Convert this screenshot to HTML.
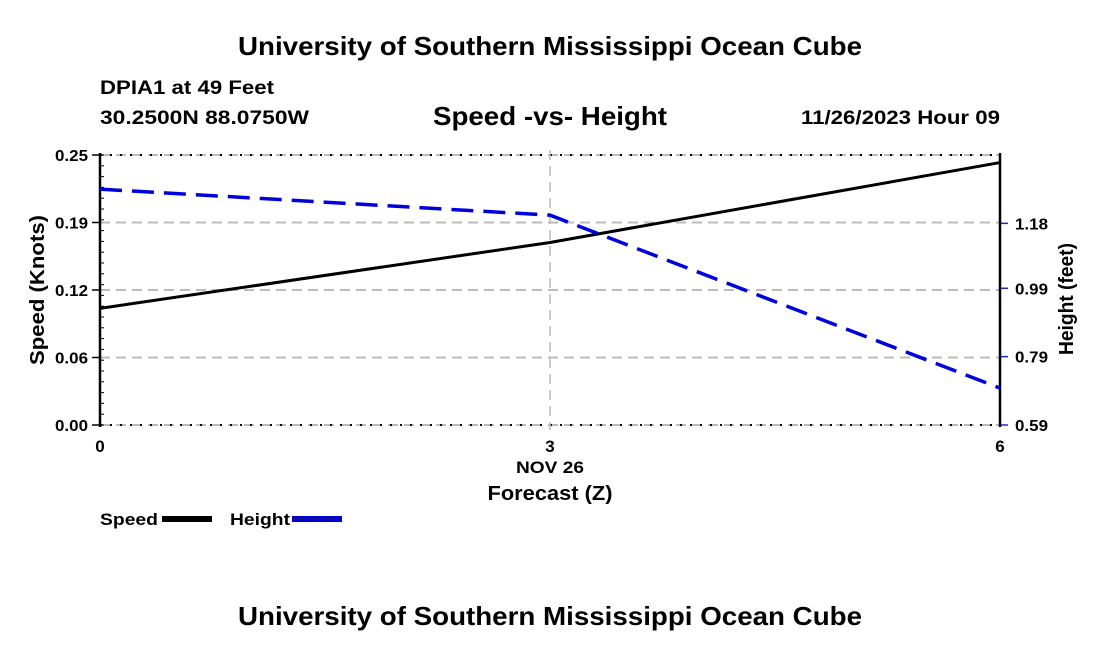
<!DOCTYPE html>
<html><head><meta charset="utf-8"><style>
body{margin:0;background:#fff;}
svg{display:block;font-family:"Liberation Sans",Arial,sans-serif;font-weight:bold;}
</style></head><body>
<svg id="c" width="1100" height="650" viewBox="0 0 1100 650">
<text x="238" y="55" font-size="26" textLength="624" lengthAdjust="spacingAndGlyphs">University of Southern Mississippi Ocean Cube</text>
<text x="100" y="94" font-size="19" textLength="174" lengthAdjust="spacingAndGlyphs">DPIA1 at 49 Feet</text>
<text x="100" y="124" font-size="19" textLength="209" lengthAdjust="spacingAndGlyphs">30.2500N  88.0750W</text>
<text x="433" y="125" font-size="26" textLength="234" lengthAdjust="spacingAndGlyphs">Speed -vs- Height</text>
<text x="801" y="124" font-size="19" textLength="199" lengthAdjust="spacingAndGlyphs">11/26/2023 Hour 09</text>
<text x="238" y="625" font-size="26" textLength="624" lengthAdjust="spacingAndGlyphs">University of Southern Mississippi Ocean Cube</text>
<g id="grid"></g><g id="axes"></g><g id="series"></g>
<text transform="translate(44,290) rotate(-90)" text-anchor="middle" font-size="20" textLength="150" lengthAdjust="spacingAndGlyphs">Speed (Knots)</text>
<text transform="translate(1073,299) rotate(-90)" text-anchor="middle" font-size="20" textLength="112" lengthAdjust="spacingAndGlyphs">Height (feet)</text>
<text x="550" y="473" text-anchor="middle" font-size="17" textLength="68" lengthAdjust="spacingAndGlyphs">NOV 26</text>
<text x="550" y="500" text-anchor="middle" font-size="20" textLength="125" lengthAdjust="spacingAndGlyphs">Forecast (Z)</text>
<g><text x="100" y="525" font-size="17" textLength="58" lengthAdjust="spacingAndGlyphs">Speed</text><rect x="162" y="516" width="50" height="6" fill="#000"/></g>
<g><text x="230" y="525" font-size="17" textLength="60" lengthAdjust="spacingAndGlyphs">Height</text><rect x="292" y="516" width="50" height="6" fill="#0000dd"/><line x1="292" y1="519" x2="342" y2="519" stroke="#223" stroke-width="1" stroke-dasharray="12 4"/></g>
</svg>
<script>
const hours=[0,3,6];
const speed=[0.108,0.169,0.243];
const height=[1.28,1.204,0.698];
const speedTicks=[0,0.0625,0.125,0.1875,0.25];
const speedTickLabels=["0.00","0.06","0.12","0.19","0.25"];
const heightTicks=[0.59,0.79,0.99,1.18];
const heightTickLabels=["0.59","0.79","0.99","1.18"];
const xTicks=[0,3,6];
const NS="http://www.w3.org/2000/svg";
const L=100,R=1000,T=155,B=425;
const xs=v=>L+(v-0)/6*(R-L);
const ys=v=>B-v/0.25*(B-T);
const yh=v=>B-(v-0.59)/(1.38-0.59)*(B-T);
function mk(p,tag,a){const e=document.createElementNS(NS,tag);for(const k in a)e.setAttribute(k,a[k]);p.appendChild(e);return e;}
const grid=document.getElementById('grid'),axes=document.getElementById('axes'),ser=document.getElementById('series');
speedTicks.forEach((v,i)=>{
 const y=ys(v);
 const g=mk(grid,'line',{x1:L,x2:R,y1:y,y2:y,stroke:'#bbb','stroke-width':2,'stroke-dasharray':'10 6'});
 
 
 if(v===0||v===0.25){const d=mk(grid,'line',{x1:L,x2:R,y1:y,y2:y,stroke:'#000','stroke-width':2,'stroke-dasharray':'2 8'});
 
 }
 mk(axes,'line',{x1:L-8,x2:L,y1:y,y2:y,stroke:'#000','stroke-width':1.5});
 const t=mk(axes,'text',{x:L-12,y:y+6,'text-anchor':'end','font-size':16,textLength:33,lengthAdjust:'spacingAndGlyphs'});
 t.textContent=speedTickLabels[i];
 
 
});
for(let k=0;k<=25;k++){const y=ys(k*0.01);mk(axes,'line',{x1:L,x2:L+4,y1:y,y2:y,stroke:'#000','stroke-width':1});}
heightTicks.forEach((v,i)=>{
 const y=yh(v);
 mk(axes,'line',{x1:R,x2:R+8,y1:y,y2:y,stroke:'#22c','stroke-width':1.5});
 const t=mk(axes,'text',{x:R+15,y:y+6,'font-size':16,textLength:33,lengthAdjust:'spacingAndGlyphs'});
 t.textContent=heightTickLabels[i];
 
 
});
xTicks.forEach(v=>{
 const x=xs(v);
 if(v>0&&v<6){const g=mk(grid,'line',{x1:x,x2:x,y1:T-5,y2:B+5,stroke:'#bbb','stroke-width':1.5,'stroke-dasharray':'10 6'});
 
 }
 const t=mk(axes,'text',{x:x,y:B+27,'text-anchor':'middle','font-size':17});
 t.textContent=v;
 
 
});
const la=mk(axes,'line',{x1:L,x2:L,y1:T-2,y2:B+2,stroke:'#000','stroke-width':2.5});


const ra=mk(axes,'line',{x1:R,x2:R,y1:T-2,y2:B+2,stroke:'#000','stroke-width':2.5});


const sp=mk(ser,'polyline',{points:hours.map((h,i)=>xs(h)+','+ys(speed[i])).join(' '),fill:'none',stroke:'#000','stroke-width':3});


const hp=mk(ser,'polyline',{points:hours.map((h,i)=>xs(h)+','+yh(height[i])).join(' '),fill:'none',stroke:'#0000dd','stroke-width':3.5,'stroke-dasharray':'22 10'});


</script>
</body></html>
